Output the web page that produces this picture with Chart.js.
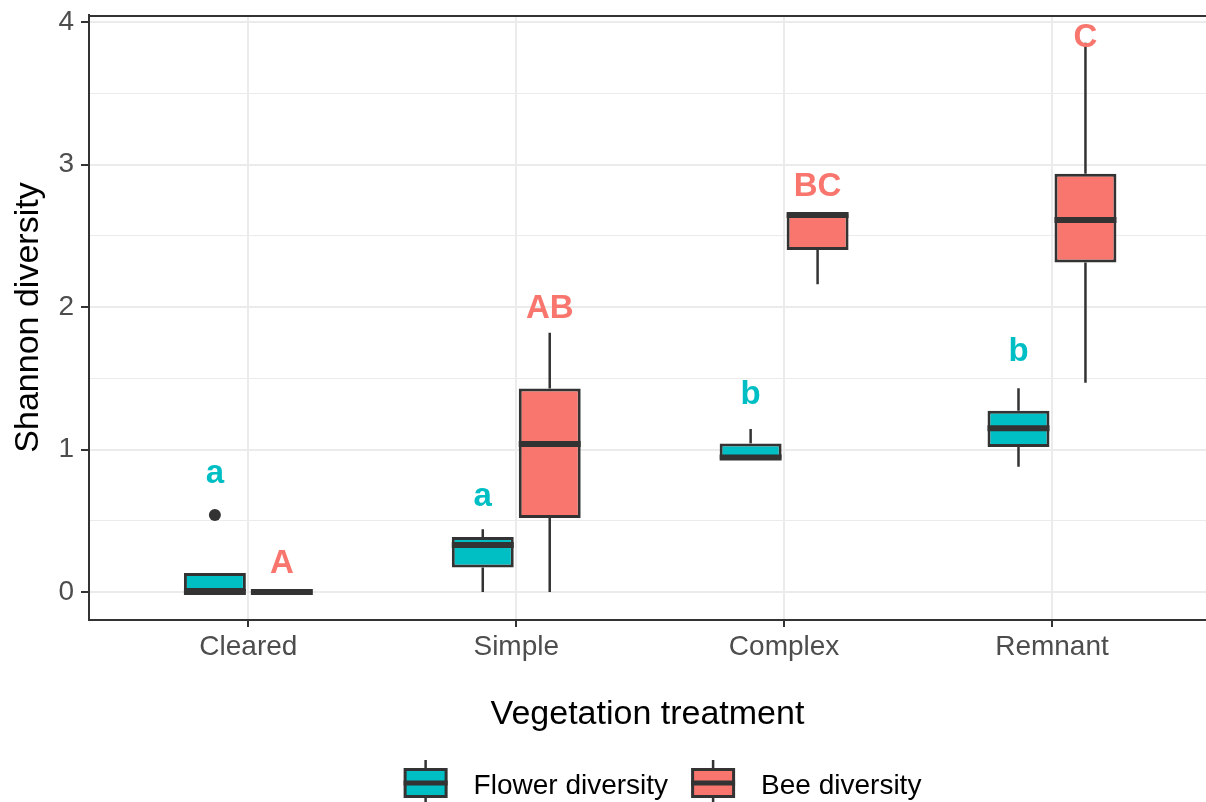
<!DOCTYPE html>
<html>
<head>
<meta charset="utf-8">
<script src="https://cdn.jsdelivr.net/npm/chart.js@4.4.1/dist/chart.umd.min.js"></script>
<style>
  html, body { margin: 0; padding: 0; background: #fff; }
  #wrap { width: 1206px; height: 802px; }
</style>
</head>
<body>
<div id="wrap"><canvas id="myChart" width="1206" height="802"></canvas></div>
<script>
// categories and y ticks
const categories = ['Cleared', 'Simple', 'Complex', 'Remnant'];
const yTicks = [0, 0.5, 1, 1.5, 2, 2.5, 3, 3.5, 4];

// flower diversity boxes
const flowerLow = [0, 0.0, 0.935, 0.88];
const flowerQ1 = [0, 0.172, 0.935, 1.018];
const flowerMed = [0, 0.33, 0.945, 1.149];
const flowerQ3 = [0.133, 0.386, 1.043, 1.273];
const flowerHigh = [0.133, 0.44, 1.144, 1.43];
const flowerOut = [[0.54], [], [], []];
const flowerLetters = ['a', 'a', 'b', 'b'];
const flowerLetterY = [0.83, 0.67, 1.38, 1.686];

// bee diversity boxes
const beeLow = [0, 0, 2.16, 1.469];
const beeQ1 = [0, 0.52, 2.40, 2.313];
const beeMed = [0, 1.039, 2.645, 2.61];
const beeQ3 = [0, 1.428, 2.656, 2.936];
const beeHigh = [0, 1.82, 2.656, 3.855];
const beeOut = [[], [], [], []];
const beeLetters = ['A', 'AB', 'BC', 'C'];
const beeLetterY = [0.20, 1.99, 2.845, 3.89];

const FONT = '"Liberation Sans", Arial, Helvetica, sans-serif';
const TEAL = '#00BFC4';
const SALMON = '#F8766D';
const DARK = '#333333';

const boxStats = [
    { low: flowerLow, q1: flowerQ1, med: flowerMed, q3: flowerQ3, high: flowerHigh, out: flowerOut, letters: flowerLetters, letterY: flowerLetterY, color: TEAL },
    { low: beeLow, q1: beeQ1, med: beeMed, q3: beeQ3, high: beeHigh, out: beeOut, letters: beeLetters, letterY: beeLetterY, color: SALMON },
];

const legendItems = [
    { text: 'Flower diversity', color: TEAL },
    { text: 'Bee diversity', color: SALMON },
];

Chart.defaults.font.family = FONT;

// whiskers go under the boxes, medians/outliers/letters on top
const boxplotPlugin = {
    id: 'boxplotBits',
    beforeDatasetsDraw(chart) {
        const ctx = chart.ctx;
        const y = chart.scales.y;
        ctx.save();
        ctx.strokeStyle = DARK;
        ctx.lineWidth = 2.5;
        boxStats.forEach((s, d) => {
            chart.getDatasetMeta(d).data.forEach((el, i) => {
                ctx.beginPath();
                ctx.moveTo(el.x, y.getPixelForValue(s.high[i]));
                ctx.lineTo(el.x, y.getPixelForValue(s.q3[i]));
                ctx.moveTo(el.x, y.getPixelForValue(s.q1[i]));
                ctx.lineTo(el.x, y.getPixelForValue(s.low[i]));
                ctx.stroke();
            });
        });
        ctx.restore();
    },
    afterDatasetsDraw(chart) {
        const ctx = chart.ctx;
        const y = chart.scales.y;
        ctx.save();
        boxStats.forEach((s, d) => {
            chart.getDatasetMeta(d).data.forEach((el, i) => {
                const half = el.width / 2;
                const my = y.getPixelForValue(s.med[i]);
                ctx.strokeStyle = DARK;
                ctx.lineWidth = 6;
                ctx.lineCap = 'butt';
                ctx.beginPath();
                ctx.moveTo(el.x - half, my);
                ctx.lineTo(el.x + half, my);
                ctx.stroke();

                ctx.fillStyle = DARK;
                s.out[i].forEach(v => {
                    ctx.beginPath();
                    ctx.arc(el.x, y.getPixelForValue(v), 6, 0, Math.PI * 2);
                    ctx.fill();
                });

                ctx.fillStyle = s.color;
                ctx.font = 'bold 33px ' + FONT;
                ctx.textAlign = 'center';
                ctx.textBaseline = 'middle';
                ctx.fillText(s.letters[i], el.x, y.getPixelForValue(s.letterY[i]));
            });
        });
        ctx.restore();
    },
    afterDraw(chart) {
        const ctx = chart.ctx;
        const area = chart.chartArea;
        ctx.save();
        // top panel border
        ctx.strokeStyle = DARK;
        ctx.lineWidth = 2;
        ctx.beginPath();
        ctx.moveTo(area.left - 1, area.top + 1);
        ctx.lineTo(area.right, area.top + 1);
        ctx.stroke();

        // legend
        ctx.font = '28px ' + FONT;
        const glyphW = 44, glyphH = 30, textGap = 26, itemGap = 23;
        const widths = legendItems.map(it => ctx.measureText(it.text).width);
        const total = widths.reduce((a, w) => a + glyphW + textGap + w, 0) + itemGap;
        let x = (area.left + area.right) / 2 + 15 - total / 2;
        const baseline = chart.height - 8;
        const gTop = baseline - 26;
        legendItems.forEach((it, k) => {
            const cx = x + glyphW / 2;
            ctx.strokeStyle = DARK;
            ctx.lineWidth = 2.5;
            ctx.beginPath();
            ctx.moveTo(cx, gTop - 8);
            ctx.lineTo(cx, chart.height);
            ctx.stroke();
            ctx.fillStyle = it.color;
            ctx.lineWidth = 3;
            ctx.fillRect(x + 1.5, gTop + 1.5, glyphW - 3, glyphH - 3);
            ctx.strokeRect(x + 1.5, gTop + 1.5, glyphW - 3, glyphH - 3);
            ctx.lineWidth = 5;
            ctx.beginPath();
            ctx.moveTo(x, gTop + glyphH / 2);
            ctx.lineTo(x + glyphW, gTop + glyphH / 2);
            ctx.stroke();

            ctx.fillStyle = '#000000';
            ctx.textAlign = 'left';
            ctx.textBaseline = 'alphabetic';
            ctx.fillText(it.text, x + glyphW + textGap, baseline);
            x += glyphW + textGap + widths[k] + itemGap;
        });
        ctx.restore();
    }
};

const datasets = boxStats.map((s, d) => ({
    label: legendItems[d].text,
    data: categories.map((c, i) => ({ x: i + 1, y: [s.q1[i], s.q3[i]] })),
    backgroundColor: s.color,
    borderColor: DARK,
    borderWidth: 3,
    borderSkipped: false,
    categoryPercentage: 0.5,
    barPercentage: 0.925,
}));

new Chart(document.getElementById('myChart'), {
    type: 'bar',
    data: { datasets: datasets },
    options: {
        responsive: false,
        animation: false,
        devicePixelRatio: 1,
        layout: { padding: { top: 15, right: 0, bottom: 52, left: 0 } },
        plugins: {
            legend: { display: false },
            tooltip: { enabled: false },
        },
        scales: {
            x: {
                type: 'linear',
                offset: false,
                min: 0.405,
                max: 4.575,
                afterBuildTicks: axis => { axis.ticks = categories.map((c, i) => ({ value: i + 1 })); },
                afterFit: axis => { axis.height = 130; axis.paddingLeft = 0; axis.paddingRight = 0; },
                ticks: {
                    callback: v => categories[v - 1],
                    color: '#4D4D4D',
                    font: { size: 28 },
                    padding: 3,
                    maxRotation: 0,
                    autoSkip: false,
                },
                grid: { offset: false, color: '#EBEBEB', lineWidth: 2, tickColor: DARK, tickLength: 7, tickWidth: 2 },
                border: { color: DARK, width: 2 },
                title: {
                    display: true,
                    text: 'Vegetation treatment',
                    color: '#000000',
                    font: { size: 34 },
                    padding: { top: 0, bottom: 15 },
                },
            },
            y: {
                min: -0.196,
                max: 4.049,
                afterBuildTicks: axis => { axis.ticks = yTicks.map(v => ({ value: v })); },
                afterFit: axis => { axis.width = 89; axis.paddingTop = 0; axis.paddingBottom = 0; },
                ticks: {
                    callback: v => (Number.isInteger(v) ? String(v) : ''),
                    color: '#4D4D4D',
                    font: { size: 28 },
                    padding: 7,
                },
                grid: {
                    color: '#EBEBEB',
                    lineWidth: c => (Number.isInteger(c.tick.value) ? 2 : 1),
                    tickColor: c => (Number.isInteger(c.tick.value) ? DARK : 'rgba(0,0,0,0)'),
                    tickLength: 8,
                    tickWidth: 2,
                },
                border: { color: DARK, width: 2 },
                title: {
                    display: true,
                    text: 'Shannon diversity',
                    color: '#000000',
                    font: { size: 34 },
                    padding: { top: 8, bottom: 0 },
                },
            },
        },
    },
    plugins: [boxplotPlugin],
});
</script>
</body>
</html>
